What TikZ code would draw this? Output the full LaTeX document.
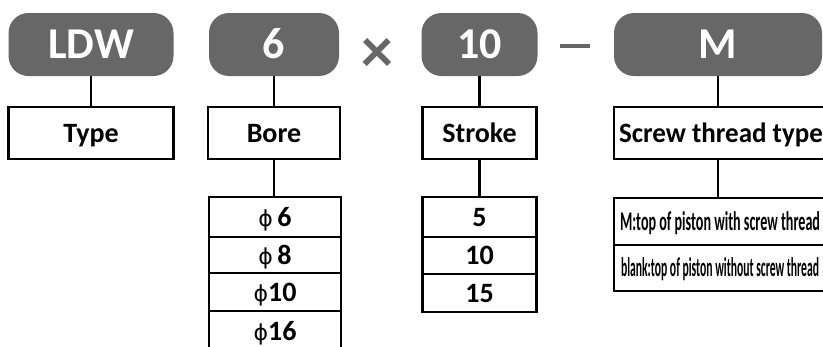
\documentclass[tikz,border=0pt]{standalone}
\usepackage{fontspec}
\usepackage{graphicx}
\setmainfont{Carlito}
\newfontfamily\phifont{DejaVu Sans}
\usetikzlibrary{positioning}
\definecolor{pillgray}{HTML}{676767}
\newcommand{\dia}{{\phifont\mdseries\fontsize{22}{22}\selectfont ϕ}}
\newcommand{\squeeze}[2][200pt]{\resizebox{#1}{\height}{#2}}

\begin{document}
\begin{tikzpicture}[x=1pt,y=-1pt,
    pill/.style={fill=pillgray,rounded corners=20pt,minimum height=63pt,inner sep=0pt,
      text=white,font=\fontsize{44}{44}\selectfont\bfseries,text height=28pt,text depth=0pt},
    headbox/.style={draw,line width=2.4pt,minimum height=52pt,inner sep=0pt,
      font=\fontsize{28}{28}\selectfont\bfseries,text height=18pt,text depth=0pt},
    rowbox/.style={draw,line width=2.4pt,inner sep=0pt,
      font=\fontsize{28}{28}\selectfont\bfseries,text height=18pt,text depth=0pt},
    sep/.style={text=pillgray,inner sep=0pt,font=\fontsize{64}{64}\selectfont\bfseries}]
  \useasboundingbox (0,0) rectangle (823,346);
  % code parts
  \node (ldw)[pill,minimum width=165pt] at (91,44.5) {LDW};
  \node (bore6)[pill,minimum width=130pt] at (274,44.5) {6};
  \node (times)[sep] at (377,55) {×};
  \node (stroke10)[pill,minimum width=116pt] at (479.5,44.5) {10};
  \node (dash)[sep] at (575,46) {\rule{30pt}{4pt}};
  \node (mthread)[pill,minimum width=208pt] at (718,44.5) {M};
  % headings
  \node (type)[headbox,minimum width=165pt] at (91,133) {Type};
  \node (bore)[headbox,minimum width=132pt] at (274,133) {Bore};
  \node (stroke)[headbox,minimum width=114pt] at (479.5,133) {Stroke};
  \node (screw)[headbox,minimum width=214pt] at (721,133) {\squeeze[204pt]{Screw thread type}\hspace{6pt}};
  % bore list
  \node (b1)[rowbox,minimum width=132pt,minimum height=40pt] at (275,217) {\dia\,6};
  \node (b2)[rowbox,minimum width=132pt,minimum height=36pt] at (275,255) {\dia\,8};
  \node (b3)[rowbox,minimum width=132pt,minimum height=38pt] at (275,292) {\dia10};
  \node (b4)[rowbox,minimum width=132pt,minimum height=40pt] at (275,331) {\dia16};
  % stroke list
  \node (s1)[rowbox,minimum width=114pt,minimum height=40pt] at (479.5,217) {5};
  \node (s2)[rowbox,minimum width=114pt,minimum height=37pt] at (479.5,255.5) {10};
  \node (s3)[rowbox,minimum width=114pt,minimum height=38pt] at (479.5,293) {15};
  % screw thread list
  \node (t1)[rowbox,minimum width=212pt,minimum height=47pt,
    font=\fontsize{27}{27}\selectfont\bfseries,text height=17pt] at (720,221.5)
    {\squeeze{M:top of piston with screw thread}\hspace{4pt}};
  \node (t2)[rowbox,minimum width=212pt,minimum height=46pt,
    font=\fontsize{27}{27}\selectfont\bfseries,text height=17pt] at (720,268)
    {\squeeze[198pt]{blank:top of piston without screw thread}\hspace{4pt}};
  \begin{scope}[every edge/.style={draw,line width=2.4pt}]
    \path (ldw.south) edge (type.north);
    \path (bore6.south) edge (bore.north);
    \path (bore.south) edge (bore.south |- b1.north);
    \path (stroke10.south) edge (stroke.north);
    \path (stroke.south) edge (s1.north);
    \path (mthread.south) edge (mthread.south |- screw.north);
    \path (screw.south -| mthread.south) edge (mthread.south |- t1.north);
  \end{scope}
\end{tikzpicture}
\end{document}
